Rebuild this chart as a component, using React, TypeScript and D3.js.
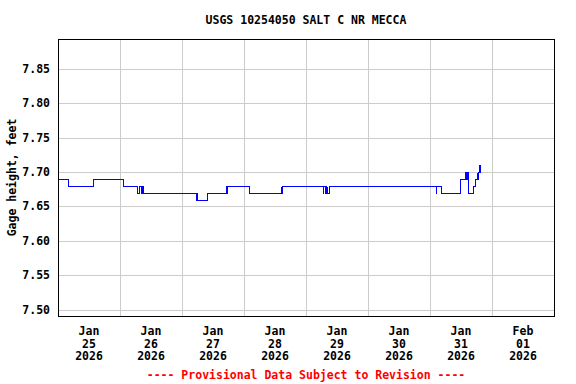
import * as React from "react";
import * as d3 from "d3";

// gage height readings (breakpoints of a 15-minute record, step after)
const times = [
  "01-25 00:00", "01-25 04:00", "01-25 13:30", "01-26 01:00", "01-26 06:45",
  "01-26 07:30", "01-26 08:15", "01-26 08:30", "01-26 09:00", "01-27 05:15",
  "01-27 05:30", "01-27 05:45", "01-27 09:45", "01-27 17:00", "01-27 17:15",
  "01-27 17:30", "01-28 02:00", "01-28 14:15", "01-28 14:30", "01-28 14:45",
  "01-29 06:30", "01-29 06:45", "01-29 07:15", "01-29 07:30", "01-29 07:45",
  "01-29 08:00", "01-29 08:15", "01-29 08:45", "01-31 02:15", "01-31 02:30",
  "01-31 04:15", "01-31 11:30", "01-31 13:30", "01-31 13:45", "01-31 14:00",
  "01-31 14:15", "01-31 14:30", "01-31 14:45", "01-31 16:30", "01-31 17:30",
  "01-31 18:00", "01-31 18:15", "01-31 18:30", "01-31 19:00", "01-31 19:15",
  "01-31 19:30",
];
const heights = [
  7.69, 7.68, 7.69, 7.68, 7.67,
  7.68, 7.67, 7.68, 7.67, 7.66,
  7.67, 7.66, 7.67, 7.68, 7.67,
  7.68, 7.67, 7.68, 7.67, 7.68,
  7.67, 7.68, 7.67, 7.68, 7.67,
  7.68, 7.67, 7.68, 7.67, 7.68,
  7.67, 7.69, 7.70, 7.69, 7.70,
  7.69, 7.70, 7.67, 7.68, 7.69,
  7.70, 7.69, 7.70, 7.71, 7.70,
  7.70,
];

const yTicks = [7.5, 7.55, 7.6, 7.65, 7.7, 7.75, 7.8, 7.85];
const dayLabels = [
  ["Jan", "25", "2026"], ["Jan", "26", "2026"], ["Jan", "27", "2026"],
  ["Jan", "28", "2026"], ["Jan", "29", "2026"], ["Jan", "30", "2026"],
  ["Jan", "31", "2026"], ["Feb", "01", "2026"],
];

const title = "USGS 10254050 SALT C NR MECCA";
const yTitle = "Gage height, feet";
const footer = "---- Provisional Data Subject to Revision ----";

const W = 576;
const H = 384;
const L = 58;
const R = 554;
const T = 39;
const B = 316;
const font = "'DejaVu Sans Mono', monospace";

export default function App() {
  const parse = d3.timeParse("%Y-%m-%d %H:%M");
  const data = times.map((t, i) => ({ t: parse("2026-" + t)!, v: heights[i] }));

  const x = d3
    .scaleTime()
    .domain([parse("2026-01-25 00:00")!, parse("2026-02-02 00:00")!])
    .range([L, R]);
  const y = d3.scaleLinear().domain([7.491, 7.893]).range([B, T]);

  const days = d3.timeDay.range(parse("2026-01-25 00:00")!, parse("2026-02-02 00:00")!);
  const midnights = days.slice(1);
  const noons = days.map((d) => d3.timeHour.offset(d, 12));

  const line = d3
    .line<{ t: Date; v: number }>()
    .x((d) => Math.round(x(d.t)) + 0.5)
    .y((d) => Math.round(y(d.v)) + 0.5)
    .curve(d3.curveStepAfter);

  return (
    <svg
      width={W}
      height={H}
      style={{ position: "absolute", left: 0, top: 0, background: "#fff" }}
      fontFamily={font}
      fontWeight="bold"
      fontSize={11.5}
    >
      <rect x={0} y={0} width={W} height={H} fill="#fff" />
      <text x={(L + R) / 2} y={24} textAnchor="middle" fill="#000">
        {title}
      </text>

      {yTicks.map((v) => (
        <line
          key={"gy" + v}
          x1={L}
          x2={R}
          y1={Math.round(y(v)) + 0.5}
          y2={Math.round(y(v)) + 0.5}
          stroke="#cccccc"
        />
      ))}
      {midnights.map((d, i) => (
        <line
          key={"gx" + i}
          x1={Math.round(x(d)) + 0.5}
          x2={Math.round(x(d)) + 0.5}
          y1={T}
          y2={B}
          stroke="#cccccc"
        />
      ))}

      <path d={line(data) || ""} fill="none" stroke="#0000ff" strokeWidth={1} shapeRendering="crispEdges" />

      <rect x={L + 0.5} y={T + 0.5} width={R - L} height={B - T} fill="none" stroke="#000" />

      {yTicks.map((v) => (
        <text key={"ly" + v} x={50} y={y(v) + 4} textAnchor="end" fill="#000">
          {d3.format(".2f")(v)}
        </text>
      ))}

      {noons.map((d, i) => (
        <g key={"lx" + i}>
          {dayLabels[i].map((s, j) => (
            <text key={j} x={x(d)} y={335 + j * 12.5} textAnchor="middle" fill="#000">
              {s}
            </text>
          ))}
        </g>
      ))}

      <text
        transform={`translate(16,${(T + B) / 2}) rotate(-90)`}
        textAnchor="middle"
        fill="#000"
      >
        {yTitle}
      </text>

      <text x={(L + R) / 2} y={379} textAnchor="middle" fill="#ff0000">
        {footer}
      </text>
    </svg>
  );
}
